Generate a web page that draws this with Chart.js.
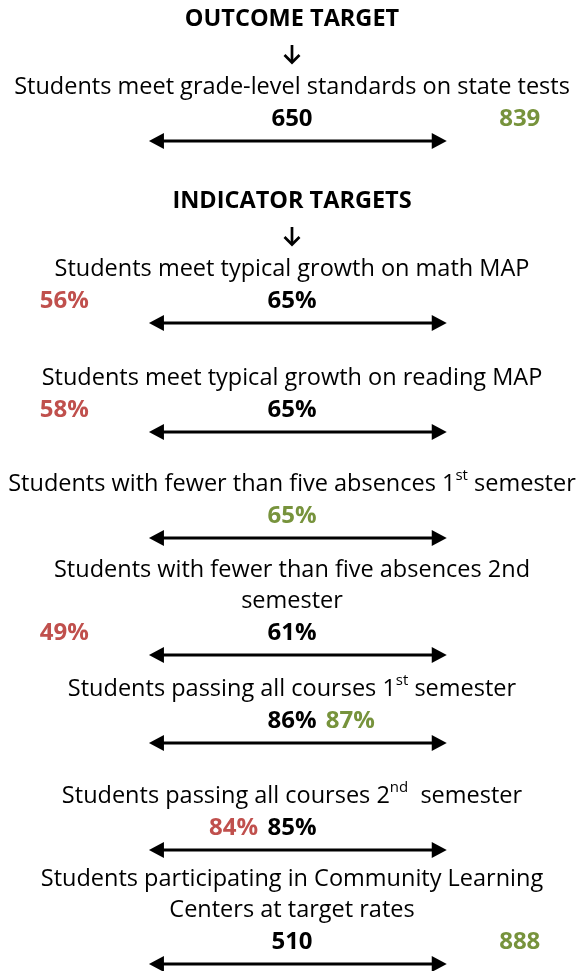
<!DOCTYPE html>
<html>
<head>
<meta charset="utf-8">
<script src="https://cdn.jsdelivr.net/npm/chart.js@4.4.1/dist/chart.umd.min.js"></script>
<style>
  html, body { margin: 0; padding: 0; background: #fff; }
  #wrap { width: 584px; height: 971px; }
</style>
</head>
<body>
<div id="wrap"><canvas id="targetsChart" width="584" height="971"></canvas></div>
<script>
// Section headings and the measure row each one sits above
const sections = ['OUTCOME TARGET', 'INDICATOR TARGETS'];
const sectionRows = [0, 1];

// Measures: ^{..} is a superscript, each array entry is one line
const measures = [
    ['Students meet grade-level standards on state tests'],
    ['Students meet typical growth on math MAP'],
    ['Students meet typical growth on reading MAP'],
    ['Students with fewer than five absences 1^{st} semester'],
    ['Students with fewer than five absences 2nd', 'semester'],
    ['Students passing all courses 1^{st} semester'],
    ['Students passing all courses 2^{nd}  semester'],
    ['Students participating in Community Learning', 'Centers at target rates']
];

// Target (black) and actual (green = met, red = missed)
const targets = [650, 65, 65, 65, 61, 86, 85, 510];
const actuals = [839, 56, 58, 65, 49, 87, 84, 888];
const units = ['', '%', '%', '%', '%', '%', '%', ''];

// Layout (pixels) - where each arrow sits
const arrowY = [141, 323, 432, 538, 655, 743, 850, 964];
const valueGap = 22;    // arrow -> value labels
const titleGap = 32;    // value labels -> last title line
const lineGap = 31;     // between title lines
const arrowFrom = -0.49, arrowTo = 0.53;   // arrow ends on the x scale
const nearStep = 0.2, farStep = 0.78;      // where the actual label goes

const GREEN = '#77933C';
const RED = '#C0504D';
const FONT = '"Open Sans", "Noto Sans", sans-serif';

// Put the actual value next to the target if close, outside the arrow if not
function placeActual(actual, target) {
    if (actual === target) return 0;
    const side = actual > target ? 1 : -1;
    return Math.abs(actual - target) / target < 0.05 ? side * nearStep : side * farStep;
}

function valueY(i) {
    return arrowY[i] - valueGap;
}

// Split a line into normal / superscript parts
function parseLine(line) {
    const parts = [];
    const re = /\^\{([^}]*)\}/g;
    let last = 0, m;
    while ((m = re.exec(line)) !== null) {
        if (m.index > last) parts.push({ text: line.slice(last, m.index), sup: false });
        parts.push({ text: m[1], sup: true });
        last = re.lastIndex;
    }
    if (last < line.length) parts.push({ text: line.slice(last), sup: false });
    return parts;
}

function drawTitleLine(ctx, line, cx, y) {
    const parts = parseLine(line);
    const normal = '23.5px ' + FONT;
    const small = '15px ' + FONT;
    let total = 0;
    parts.forEach(p => {
        ctx.font = p.sup ? small : normal;
        p.w = ctx.measureText(p.text).width;
        total += p.w;
    });
    let x = cx - total / 2;
    ctx.textAlign = 'left';
    ctx.textBaseline = 'middle';
    ctx.fillStyle = '#000';
    parts.forEach(p => {
        ctx.font = p.sup ? small : normal;
        ctx.fillText(p.text, x, p.sup ? y - 8 : y);
        x += p.w;
    });
}

function drawDoubleArrow(ctx, x1, x2, y) {
    const head = 15, half = 8;
    ctx.strokeStyle = '#000';
    ctx.fillStyle = '#000';
    ctx.lineWidth = 3;
    ctx.beginPath();
    ctx.moveTo(x1 + head - 2, y);
    ctx.lineTo(x2 - head + 2, y);
    ctx.stroke();
    ctx.beginPath();
    ctx.moveTo(x1, y);
    ctx.lineTo(x1 + head, y - half);
    ctx.lineTo(x1 + head, y + half);
    ctx.closePath();
    ctx.fill();
    ctx.beginPath();
    ctx.moveTo(x2, y);
    ctx.lineTo(x2 - head, y - half);
    ctx.lineTo(x2 - head, y + half);
    ctx.closePath();
    ctx.fill();
}

function drawDownArrow(ctx, x, y) {
    ctx.strokeStyle = '#000';
    ctx.lineWidth = 2.7;
    ctx.lineCap = 'butt';
    ctx.beginPath();
    ctx.moveTo(x, y - 9);
    ctx.lineTo(x, y + 8);
    ctx.stroke();
    ctx.beginPath();
    ctx.moveTo(x - 7.5, y + 1);
    ctx.lineTo(x, y + 8.5);
    ctx.lineTo(x + 7.5, y + 1);
    ctx.stroke();
}

const infographic = {
    id: 'infographic',
    beforeDatasetsDraw(chart) {
        const ctx = chart.ctx;
        const xs = chart.scales.x, ys = chart.scales.y;
        const cx = xs.getPixelForValue(0);
        ctx.save();

        measures.forEach((lines, i) => {
            const lastY = ys.getPixelForValue(valueY(i) - titleGap);
            lines.forEach((line, k) => {
                drawTitleLine(ctx, line, cx, lastY - (lines.length - 1 - k) * lineGap);
            });

            const firstY = lastY - (lines.length - 1) * lineGap;
            const s = sectionRows.indexOf(i);
            if (s >= 0) {
                drawDownArrow(ctx, cx, firstY - 33);
                ctx.font = 'bold 23.5px ' + FONT;
                ctx.textAlign = 'center';
                ctx.textBaseline = 'middle';
                ctx.fillStyle = '#000';
                ctx.fillText(sections[s], cx, firstY - 68);
            }

            drawDoubleArrow(ctx, xs.getPixelForValue(arrowFrom), xs.getPixelForValue(arrowTo),
                ys.getPixelForValue(arrowY[i]));
        });
        ctx.restore();
    },
    afterDatasetsDraw(chart) {
        const ctx = chart.ctx;
        const tMeta = chart.getDatasetMeta(0);
        const aMeta = chart.getDatasetMeta(1);
        ctx.save();
        ctx.font = 'bold 24px ' + FONT;
        ctx.textAlign = 'center';
        ctx.textBaseline = 'middle';
        targets.forEach((t, i) => {
            const a = actuals[i];
            if (a !== t) {
                const p = tMeta.data[i];
                ctx.fillStyle = '#000';
                ctx.fillText(t + units[i], p.x, p.y);
            }
            const q = aMeta.data[i];
            ctx.fillStyle = a >= t ? GREEN : RED;
            ctx.fillText(a + units[i], q.x, q.y);
        });
        ctx.restore();
    }
};

const ctx = document.getElementById('targetsChart').getContext('2d');
new Chart(ctx, {
    type: 'scatter',
    data: {
        datasets: [
            {
                label: 'Target',
                data: targets.map((t, i) => ({ x: 0, y: valueY(i) })),
                pointRadius: 0
            },
            {
                label: 'Actual',
                data: actuals.map((a, i) => ({ x: placeActual(a, targets[i]), y: valueY(i) })),
                pointRadius: 0
            }
        ]
    },
    options: {
        responsive: false,
        animation: false,
        events: [],
        layout: { padding: 0 },
        plugins: {
            legend: { display: false },
            tooltip: { enabled: false }
        },
        scales: {
            x: { display: false, min: -1, max: 1 },
            y: { display: false, min: 0, max: 971, reverse: true }
        }
    },
    plugins: [infographic]
});
</script>
</body>
</html>
